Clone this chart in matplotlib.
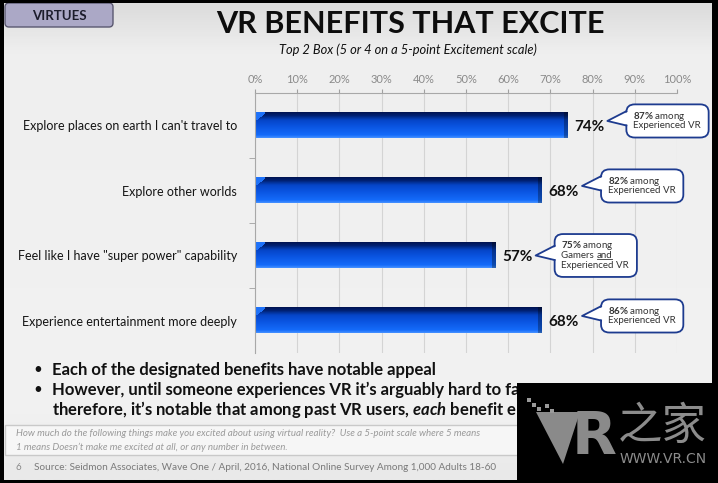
"""VR benefits slide - top 2 box excitement"""
import numpy as np
import matplotlib.pyplot as plt
from matplotlib.patches import FancyBboxPatch, Rectangle, Polygon
from matplotlib.colors import LinearSegmentedColormap
from matplotlib.lines import Line2D

plt.rcParams['font.family'] = ['Lato', 'DejaVu Sans']
plt.rcParams['mathtext.fontset'] = 'custom'
plt.rcParams['mathtext.rm'] = 'Lato'
plt.rcParams['mathtext.bf'] = 'Lato:bold'
plt.rcParams['mathtext.it'] = 'Lato:bold:italic'

# data
categories = ["Explore places on earth I can't travel to",
              "Explore other worlds",
              'Feel like I have "super power" capability',
              "Experience entertainment more deeply"]
values = [74, 68, 57, 68]
callout_pct = ['87%', '82%', '75%', '86%']
callout_more = [['Experienced VR'],
                ['Experienced VR'],
                ['Gamers and', 'Experienced VR'],
                ['Experienced VR']]
x_ticks = [0, 10, 20, 30, 40, 50, 60, 70, 80, 90, 100]
title = 'VR BENEFITS THAT EXCITE'
subtitle = 'Top 2 Box (5 or 4 on a 5-point Excitement scale)'
# bullet / question lines are cut off by the watermark in the source slide
bullets = ['Each of the designated benefits have notable appeal',
           'However, until someone experiences VR it\u2019s arguably hard to fa',
           'therefore, it\u2019s notable that among past VR users, $\\it{each}$ benefit e']
question = ['How much do the following things make you excited about using virtual reality?  '
            'Use a 5-point scale where 5 means',
            '1 means Doesn\u2019t make me excited at all, or any number in between.']
source = 'Source: Seidmon Associates, Wave One / April, 2016, National Online Survey Among 1,000 Adults 18-60'

W, H = 718, 483
fig = plt.figure(figsize=(W / 100, H / 100), dpi=100)
fig.patch.set_facecolor('black')

# slide background (pixel coordinates)
bg = fig.add_axes([0, 0, 1, 1])
bg.set_xlim(0, W)
bg.set_ylim(H, 0)
bg.axis('off')
bg.set_zorder(0)
slide_cmap = LinearSegmentedColormap.from_list(
    'slide', [(0, '#dcdcdc'), (0.1, '#efefef'), (0.85, '#f2f2f2'), (1, '#e9e9e9')])
grad = np.linspace(0, 1, 200).reshape(-1, 1)
bg.imshow(grad, extent=(4, 712, 480, 3), cmap=slide_cmap, aspect='auto', zorder=0)

# "VIRTUES" tab
bg.add_patch(FancyBboxPatch((5, 3), 108, 24, boxstyle='round,pad=0,rounding_size=4',
                            fc='#aba8c6', ec='#5a5870', lw=1, zorder=2))
bg.text(59, 15.5, 'VIRTUES', ha='center', va='center', fontsize=9.5,
        fontweight='bold', color='#1c1c2c', zorder=3)

bg.text(410, 24, title, ha='center', va='center', fontsize=22, fontweight='bold',
        color='#0d0d0d', zorder=3)
bg.text(408, 50, subtitle, ha='center', va='center', fontsize=9.3, style='italic',
        color='#111111', zorder=3)

# bullets
for k, line in enumerate(bullets):
    y = 370 + k * 19.5
    if k < 2:
        bg.text(38, y, '\u2022', ha='center', va='center', fontsize=11, color='#111111', zorder=3)
    bg.text(52, y, line, ha='left', va='center', fontsize=12, fontweight='bold',
            color='#111111', zorder=3)

# question box + source
bg.add_patch(Rectangle((5, 425), 700, 30, fc='#f6f6f6', ec='#c9c9c9', lw=1, zorder=2))
for k, line in enumerate(question):
    bg.text(16, 433 + k * 14, line, ha='left', va='center', fontsize=7, style='italic',
            color='#9a9a9a', zorder=3)
bg.text(16, 468, '6', ha='left', va='center', fontsize=7, color='#8a8a8a', zorder=3)
bg.text(34, 468, source, ha='left', va='center', fontsize=7.2, color='#7a7a7a', zorder=3)

# black borders
for rect in [(0, 0, 4, H), (712, 0, 6, H), (0, 0, W, 3), (0, 480, W, 3)]:
    bg.add_patch(Rectangle(rect[:2], rect[2], rect[3], fc='black', ec='none', zorder=4))

# watermark
bg.add_patch(Rectangle((517, 383), 201, 100, fc='black', ec='none', zorder=5))
bg.add_patch(Polygon([(536, 412), (580, 412), (563, 464)], closed=True, fc='#8a8a8a',
                     ec='none', zorder=6))
for sx, sy in [(527, 398), (532, 403), (537, 407), (545, 404), (550, 409)]:
    bg.add_patch(Rectangle((sx, sy), 3.5, 3.5, fc='#9a9a9a', ec='none', zorder=6))
bg.text(594, 438, 'R', ha='center', va='center', fontsize=42, fontweight='bold',
        color='#8a8a8a', family=['DejaVu Sans'], zorder=6)
bg.text(662, 426, '\u4e4b\u5bb6', ha='center', va='center', fontsize=32,
        family=['Noto Sans CJK SC', 'DejaVu Sans'], color='#8c8c8c', zorder=6)
bg.text(663, 459, 'WWW.VR.CN', ha='center', va='center', fontsize=10,
        family=['DejaVu Sans'], color='#8c8c8c', zorder=6)

# chart axes
ax = fig.add_axes([255 / W, 1 - 353 / H, 422 / W, 260 / H])
ax.set_zorder(1)
ax.patch.set_alpha(0)
ax.set_xlim(0, 100)
ax.set_ylim(3.5, -0.5)
ax.xaxis.tick_top()
ax.set_xticks(x_ticks)
ax.set_xticklabels([f'{t}%' for t in x_ticks])
ax.tick_params(axis='x', colors='#a0a0a0', labelcolor='#8a8a8a', labelsize=8,
               length=3, pad=3)
ax.set_yticks(range(len(categories)))
ax.set_yticklabels(categories, fontsize=9, color='#151515')
ax.set_yticks([0.5, 1.5, 2.5], minor=True)
ax.tick_params(axis='y', which='major', length=0, pad=13)
ax.tick_params(axis='y', which='minor', length=4, color='#a0a0a0')
ax.grid(axis='x', color='#d4d4d4', lw=0.8, zorder=0)
ax.set_axisbelow(True)
for side in ['right', 'bottom']:
    ax.spines[side].set_visible(False)
for side in ['top', 'left']:
    ax.spines[side].set_color('#a8a8a8')

# bar shading, in pixel-like steps
bar_h = 0.4
stops = [(0.00, (0.00, 0.08, 0.33)), (0.12, (0.00, 0.13, 0.45)), (0.30, (0.02, 0.27, 0.78)),
         (0.55, (0.04, 0.33, 0.88)), (0.90, (0.08, 0.42, 0.98)), (1.00, (0.25, 0.55, 1.00))]
bar_cmap = LinearSegmentedColormap.from_list('bar', stops)
px_per_unit = 4.22
n_rows = 26

for i, v in enumerate(values):
    n_cols = int(v * px_per_unit)
    r = np.linspace(0, 1, n_rows)[:, None] * np.ones((1, n_cols))
    c = np.arange(n_cols)[None, :] * np.ones((n_rows, 1))
    img = bar_cmap(r)[..., :3]
    bevel = (c < 10) & (r < 0.35 - c * 0.03)
    img[bevel] = (0.12, 0.45, 0.98)
    right = c > n_cols - 5
    img[right] *= 0.7
    ax.imshow(img, extent=(0, v, i + bar_h / 2, i - bar_h / 2),
              aspect='auto', interpolation='bilinear', zorder=2)
    ax.text(v + 1.6, i + 0.02, f'{v}%', ha='left', va='center', fontsize=11,
            fontweight='bold', color='#111111', zorder=3)

    # callout bubble
    lines = ['$\\bf{' + callout_pct[i].replace('%', '\\%') + '}$ among'] + callout_more[i]
    n = len(lines)
    bh = 0.21 + 0.15 * n
    yc = i - 0.07 if n == 2 else i
    bx0, bw = v + 14, 19.5
    ax.add_patch(FancyBboxPatch((bx0, yc - bh / 2), bw, bh,
                                boxstyle='round,pad=0,rounding_size=2', mutation_aspect=0.06,
                                fc='white', ec='#1d3b8f', lw=1.3, clip_on=False, zorder=4))
    tip = v + 9.5
    ax.add_patch(Polygon([(bx0 + 0.4, yc - 0.14), (tip, yc), (bx0 + 0.4, yc + 0.06)],
                         closed=True, fc='white', ec='none', clip_on=False, zorder=5))
    ax.plot([bx0, tip, bx0], [yc - 0.15, yc, yc + 0.07], color='#1d3b8f', lw=1.3,
            clip_on=False, zorder=5, solid_joinstyle='round')
    for k, line in enumerate(lines):
        ly = yc + (k - (n - 1) / 2) * 0.15
        if line == 'Gamers and':
            t = ax.text(bx0 + 1.6, ly, 'Gamers ', ha='left', va='center', fontsize=7,
                        color='#333333', zorder=6)
            fig.canvas.draw()
            bb = t.get_window_extent()
            inv = fig.transFigure.inverted()
            (fx0, fy0), (fx1, fy1) = inv.transform([[bb.x1, bb.y0], [bb.x1, bb.y1]])
            t2 = fig.text(fx0, (fy0 + fy1) / 2, 'and', ha='left', va='center', fontsize=7,
                          color='#333333', zorder=6)
            fig.canvas.draw()
            bb2 = t2.get_window_extent()
            (ux0, uy), (ux1, _) = inv.transform([[bb2.x0, bb2.y0 + 1.0], [bb2.x1, bb2.y0]])
            fig.add_artist(Line2D([ux0, ux1], [uy, uy], color='#333333', lw=0.6, zorder=6))
        else:
            ax.text(bx0 + 1.6, ly, line, ha='left', va='center', fontsize=7,
                    color='#333333', zorder=6)

plt.savefig('out.png', dpi=100, facecolor=fig.get_facecolor())
